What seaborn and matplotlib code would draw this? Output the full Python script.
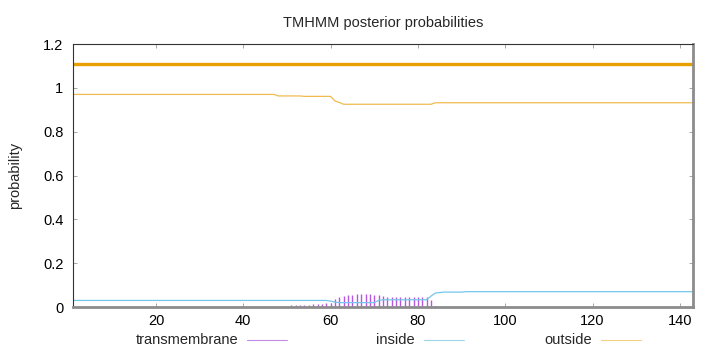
"""TMHMM posterior probabilities, redrawn with seaborn / matplotlib."""
import matplotlib

matplotlib.use("Agg")
import matplotlib.pyplot as plt
import pandas as pd
import seaborn as sns
from matplotlib.lines import Line2D

# ---- data (residues 1..143) ----
residues = list(range(1, 144))

inside = ([0.030] * 59 + [0.027, 0.022] + [0.020] * 9 + [0.030]
          + [0.033] * 11 + [0.050, 0.064, 0.066] + [0.068] * 5 + [0.070] * 53)

outside = ([0.970] * 47 + [0.963] * 6 + [0.961] * 7 + [0.940, 0.933]
           + [0.925] * 21 + [0.932] * 60)

transmembrane = ([0.0] * 47
                 + [0.004, 0.005, 0.006, 0.007, 0.008, 0.009, 0.010, 0.011,
                    0.012, 0.013, 0.015, 0.017, 0.019, 0.038, 0.047, 0.052,
                    0.055, 0.057, 0.058, 0.058, 0.058, 0.058, 0.057, 0.055,
                    0.048, 0.047, 0.047, 0.047, 0.047, 0.047, 0.047, 0.047,
                    0.046, 0.046, 0.045, 0.030, 0.004, 0.002]
                 + [0.0] * 58)

# predicted topology strip at the top: whole sequence is "outside"
topo_start = [1]
topo_end = [143]
topo_level = 1.11

x_ticks = [20, 40, 60, 80, 100, 120, 140]
y_ticks = [0, 0.2, 0.4, 0.6, 0.8, 1.0, 1.2]
y_tick_labels = ["0", "0.2", "0.4", "0.6", "0.8", "1", "1.2"]

C_TM = "#b458e0"
C_IN = "#74c6ec"
C_OUT = "#f0bc50"
C_TOPO = "#e8a000"

sns.set_theme(style="ticks")
plt.rcParams["font.family"] = ["Liberation Sans", "DejaVu Sans"]

df = pd.DataFrame({"residue": residues, "inside": inside,
                   "outside": outside, "tm": transmembrane})

fig = plt.figure(figsize=(7.2, 3.52), dpi=100)
ax = fig.add_axes([0.1014, 0.1278, 0.8611, 0.7472])

ax.vlines(df["residue"], 0, df["tm"], color=C_TM, lw=1.0)
sns.lineplot(data=df, x="residue", y="inside", ax=ax, color=C_IN, lw=0.9)
sns.lineplot(data=df, x="residue", y="outside", ax=ax, color=C_OUT, lw=0.9)
for s, e in zip(topo_start, topo_end):
    sns.lineplot(x=[s, e], y=[topo_level, topo_level], ax=ax,
                 color=C_TOPO, lw=2.4)

ax.set_xlim(1, 143)
ax.set_ylim(0, 1.2)
ax.set_xticks(x_ticks)
ax.set_yticks(y_ticks)
ax.set_yticklabels(y_tick_labels)
ax.tick_params(direction="in", length=3, width=0.6, color="#999999",
               labelsize=10.5, labelcolor="black", top=True, right=True)
ax.tick_params(axis="y", pad=7)
ax.tick_params(axis="x", pad=5)
ax.set_xlabel("")
ax.set_ylabel("probability", fontsize=10.5, labelpad=15)
ax.set_title("TMHMM posterior probabilities", fontsize=10.5, pad=12)

for side in ("top", "left"):
    ax.spines[side].set_color("#333333")
    ax.spines[side].set_linewidth(0.8)
for side in ("bottom", "right"):
    ax.spines[side].set_color("#8c8c8c")
    ax.spines[side].set_linewidth(2.0)

# legend in gnuplot style: text right-aligned, sample to the right
legend = [("transmembrane", "#c58ce6"), ("inside", "#9fd3ea"),
          ("outside", "#f3cf85")]
ly = 1 - 340 / 352
for i, (label, col) in enumerate(legend):
    x_text = (238 + i * 177) / 720
    fig.text(x_text, ly, label, ha="right", va="center", fontsize=10.5)
    x0 = (247 + i * 177) / 720
    fig.add_artist(Line2D([x0, x0 + 40 / 720], [ly, ly], color=col, lw=0.8,
                          transform=fig.transFigure))

fig.savefig("out.png", dpi=100, facecolor="white")
